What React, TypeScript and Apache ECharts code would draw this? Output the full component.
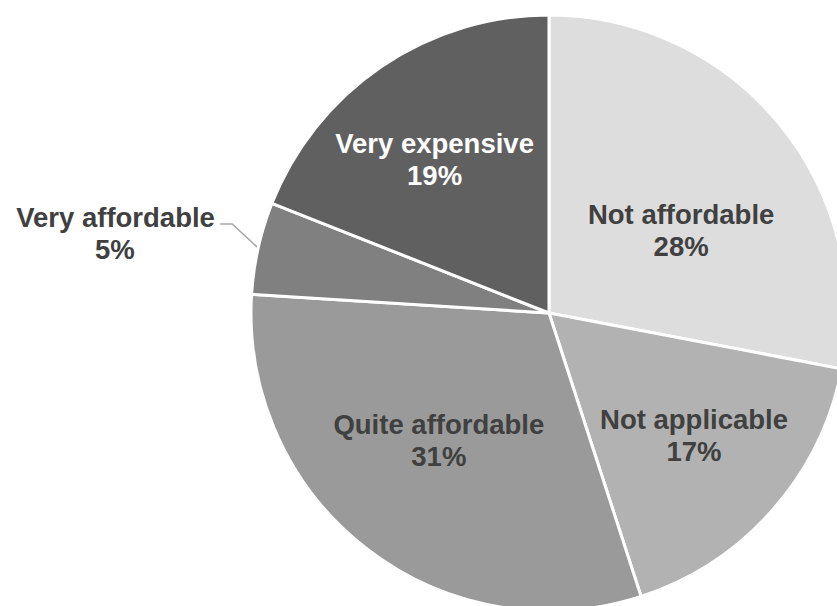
import React, { useEffect, useRef } from "react";
import * as echarts from "echarts";

const categories = ["Not affordable", "Not applicable", "Quite affordable", "Very affordable", "Very expensive"];
const values = [28, 17, 31, 5, 19];
const colors = ["#dddddd", "#b2b2b2", "#9a9a9a", "#808080", "#606060"];
const labelColors = ["#404040", "#404040", "#404040", "#404040", "#ffffff"];
const labelShift = [
  [15, 14],
  [31, 22],
  [-17, 7],
  [0, -8],
  [-29, -28],
];

const FONT = "Liberation Sans, Arial, sans-serif";
const FS = 27.5;

export default function App() {
  const ref = useRef<HTMLDivElement>(null);
  useEffect(() => {
    document.body.style.margin = "0";
    const chart = echarts.init(ref.current!, null, { renderer: "svg" });
    chart.setOption({
      animation: false,
      backgroundColor: "#ffffff",
      series: [
        {
          type: "pie",
          center: [549, 313],
          radius: 298,
          startAngle: 90,
          clockwise: true,
          avoidLabelOverlap: false,
          itemStyle: { borderColor: "#ffffff", borderWidth: 3 },
          label: {
            show: true,
            position: "inside",
            formatter: "{b}\n{c}%",
            fontFamily: FONT,
            fontWeight: "bold",
            fontSize: FS,
            lineHeight: 32,
            align: "center",
          },
          labelLayout: (p: any) => {
            const s = labelShift[p.dataIndex];
            if (p.dataIndex === 3) {
              const pts = p.labelLinePoints;
              if (!pts) return { dx: s[0], dy: s[1] };
              const a = pts[0];
              return {
                dx: s[0],
                dy: s[1],
                labelLinePoints: [
                  [a[0], a[1]],
                  [a[0] - 26, a[1] - 24],
                  [a[0] - 38, a[1] - 24],
                ],
              };
            }
            return { dx: s[0], dy: s[1] };
          },
          data: categories.map((name, i) => ({
            name,
            value: values[i],
            itemStyle: { color: colors[i] },
            label:
              i === 3
                ? {
                    position: "outside",
                    color: labelColors[i],
                    formatter: "{t|{b}}\n{p|{c}%}",
                    rich: {
                      t: { fontFamily: FONT, fontWeight: "bold", fontSize: FS, lineHeight: 32, color: labelColors[i] },
                      p: {
                        fontFamily: FONT,
                        fontWeight: "bold",
                        fontSize: FS,
                        lineHeight: 32,
                        color: labelColors[i],
                        width: 200,
                        align: "center",
                      },
                    },
                  }
                : { color: labelColors[i] },
            labelLine:
              i === 3
                ? { show: true, length: 30, length2: 9, lineStyle: { color: "#a6a6a6", width: 1.5 } }
                : { show: false },
          })),
        },
      ],
    });
    return () => chart.dispose();
  }, []);
  return <div ref={ref} style={{ width: 837, height: 606 }} />;
}
